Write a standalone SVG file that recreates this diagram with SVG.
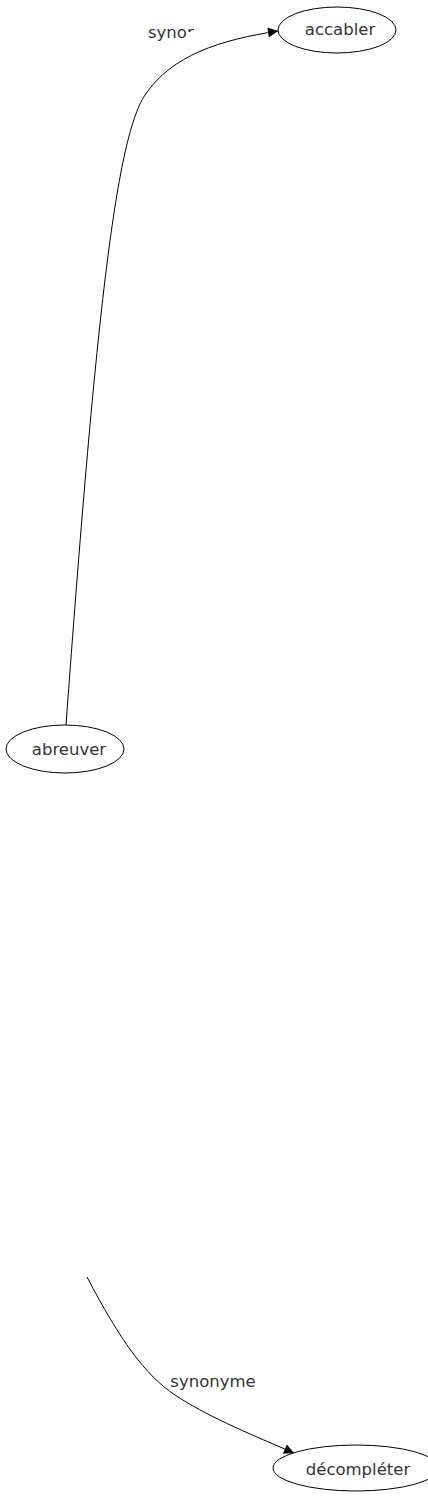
<svg xmlns="http://www.w3.org/2000/svg" width="428" height="1499" viewBox="0 0 428 1499">
<style>
.node ellipse{fill:none;stroke:#000;stroke-width:1}
.node text,.lbl{font-family:"DejaVu Sans",sans-serif;font-size:16.5px;fill:#333;text-anchor:middle}
.edge path{fill:none;stroke:#000;stroke-width:1}
</style>
<defs>
<marker id="arr" viewBox="0 0 10 10" refX="10" refY="5" markerWidth="14" markerHeight="10" markerUnits="userSpaceOnUse" orient="auto">
<path d="M0,0 L10,5 L0,10 z" fill="#000"/>
</marker>
<clipPath id="clipLbl" clipPathUnits="userSpaceOnUse">
<rect x="140" y="15" width="47" height="35"/>
<rect x="187" y="15" width="7" height="17"/>
</clipPath>
</defs>
<rect width="428" height="1499" fill="#fff"/>
<g id="edges">
<g class="edge"><path d="M66,725 C 95,330 115,140 145,95 C 172,55 220,40 278,31" marker-end="url(#arr)"/>
<text class="lbl" x="148" y="38" style="text-anchor:start" clip-path="url(#clipLbl)">synon</text></g>
<g class="edge"><path d="M87,1277 C 120,1340 145,1375 175,1395 C 205,1415 245,1432 294,1453" marker-end="url(#arr)"/>
<text class="lbl" x="213" y="1387">synonyme</text></g>
</g>
<g id="accabler" class="node"><ellipse cx="337" cy="30" rx="59" ry="23"/><text x="340" y="35">accabler</text></g>
<g id="abreuver" class="node"><ellipse cx="65" cy="749" rx="59" ry="24"/><text x="69" y="755">abreuver</text></g>
<g id="decompleter" class="node"><ellipse cx="356" cy="1468" rx="83" ry="23"/><text x="358" y="1475">décompléter</text></g>
</svg>
